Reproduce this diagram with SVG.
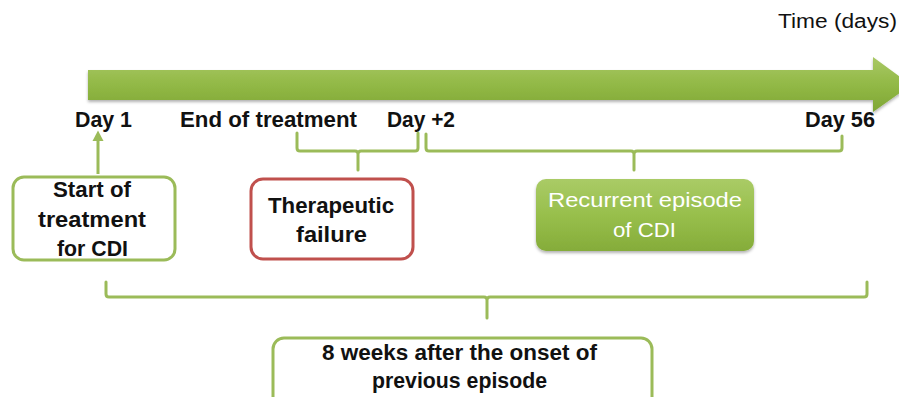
<svg xmlns="http://www.w3.org/2000/svg" width="899" height="397" viewBox="0 0 899 397">
<defs>
<linearGradient id="gArrow" x1="0" y1="0" x2="0" y2="1">
<stop offset="0" stop-color="#a9c865"/>
<stop offset="0.5" stop-color="#92b946"/>
<stop offset="1" stop-color="#7fa635"/>
</linearGradient>
<linearGradient id="gBox" x1="0" y1="0" x2="0" y2="1">
<stop offset="0" stop-color="#aacb66"/>
<stop offset="0.5" stop-color="#98bf4c"/>
<stop offset="1" stop-color="#85ac3a"/>
</linearGradient>
<filter id="shadow" x="-10%" y="-20%" width="120%" height="150%">
<feDropShadow dx="0" dy="2" stdDeviation="1.5" flood-color="#000" flood-opacity="0.3"/>
</filter>
<style>
.lbl{font-family:"Liberation Sans",Arial,sans-serif;font-weight:bold;font-size:22px;fill:#111;}
.box{fill:#fff;stroke-width:3;}
.green{stroke:#9bbb59;}
.red{stroke:#c0504d;}
.brace{fill:none;stroke:#9bbb59;stroke-width:3;stroke-linecap:round;stroke-linejoin:round;}
.white{font-family:"Liberation Sans",Arial,sans-serif;font-size:21px;fill:#fff;}
</style>
</defs>

<text x="778" y="28" font-family="Liberation Sans, Arial, sans-serif" font-size="20" fill="#111" textLength="119" lengthAdjust="spacingAndGlyphs">Time (days)</text>

<g id="timeline">
<path d="M88,70 H873 V57 L911,85 L873,112 V100 H88 Z" fill="url(#gArrow)" filter="url(#shadow)"/>
</g>

<g id="labels">
<text class="lbl" x="75" y="127" textLength="57" lengthAdjust="spacingAndGlyphs">Day 1</text>
<text class="lbl" x="180" y="127" textLength="177" lengthAdjust="spacingAndGlyphs">End of treatment</text>
<text class="lbl" x="387" y="127" textLength="68" lengthAdjust="spacingAndGlyphs">Day +2</text>
<text class="lbl" x="805" y="127" textLength="70" lengthAdjust="spacingAndGlyphs">Day 56</text>
</g>

<g id="connectors">
<line x1="98" y1="174" x2="98" y2="138" stroke="#9bbb59" stroke-width="3"/>
<path d="M92.5,141 L98,130.5 L103.5,141 Z" fill="#9bbb59"/>
<path class="brace" d="M297,133 V148 Q297,151 300,151 H355 Q358,151 358,154 V170 M358,154 Q358,151 361,151 H415 Q418,151 418,148 V133"/>
<path class="brace" d="M426,134 V148 Q426,151 429,151 H631 Q634,151 634,154 V170 M634,154 Q634,151 637,151 H839 Q842,151 842,148 V136"/>
<path class="brace" d="M106,282 V294 Q106,297 109,297 H484 Q487,297 487,300 V318 M487,300 Q487,297 490,297 H864 Q867,297 867,294 V282"/>
</g>

<g id="start">
<rect class="box green" x="13" y="177" width="162" height="83" rx="11"/>
<text class="lbl" x="53" y="197" font-size="21" textLength="78" lengthAdjust="spacingAndGlyphs">Start of</text>
<text class="lbl" x="38" y="227" font-size="21" textLength="108" lengthAdjust="spacingAndGlyphs">treatment</text>
<text class="lbl" x="57" y="256" font-size="21" textLength="71" lengthAdjust="spacingAndGlyphs">for CDI</text>
</g>

<g id="failure">
<rect class="box red" x="251" y="179" width="162" height="80" rx="12"/>
<text class="lbl" x="268" y="213" textLength="126" lengthAdjust="spacingAndGlyphs">Therapeutic</text>
<text class="lbl" x="296" y="242" textLength="71" lengthAdjust="spacingAndGlyphs">failure</text>
</g>

<g id="recurrent">
<rect x="536" y="179" width="218" height="72" rx="10" fill="url(#gBox)" filter="url(#shadow)"/>
<text class="white" x="548" y="207" textLength="194" lengthAdjust="spacingAndGlyphs">Recurrent episode</text>
<text class="white" x="613" y="237" textLength="63" lengthAdjust="spacingAndGlyphs">of CDI</text>
</g>

<g id="weeks">
<rect class="box green" x="273" y="338" width="379" height="70" rx="11"/>
<text class="lbl" x="322" y="360" textLength="275" lengthAdjust="spacingAndGlyphs">8 weeks after the onset of</text>
<text class="lbl" x="372" y="388" textLength="175" lengthAdjust="spacingAndGlyphs">previous episode</text>
</g>
</svg>
